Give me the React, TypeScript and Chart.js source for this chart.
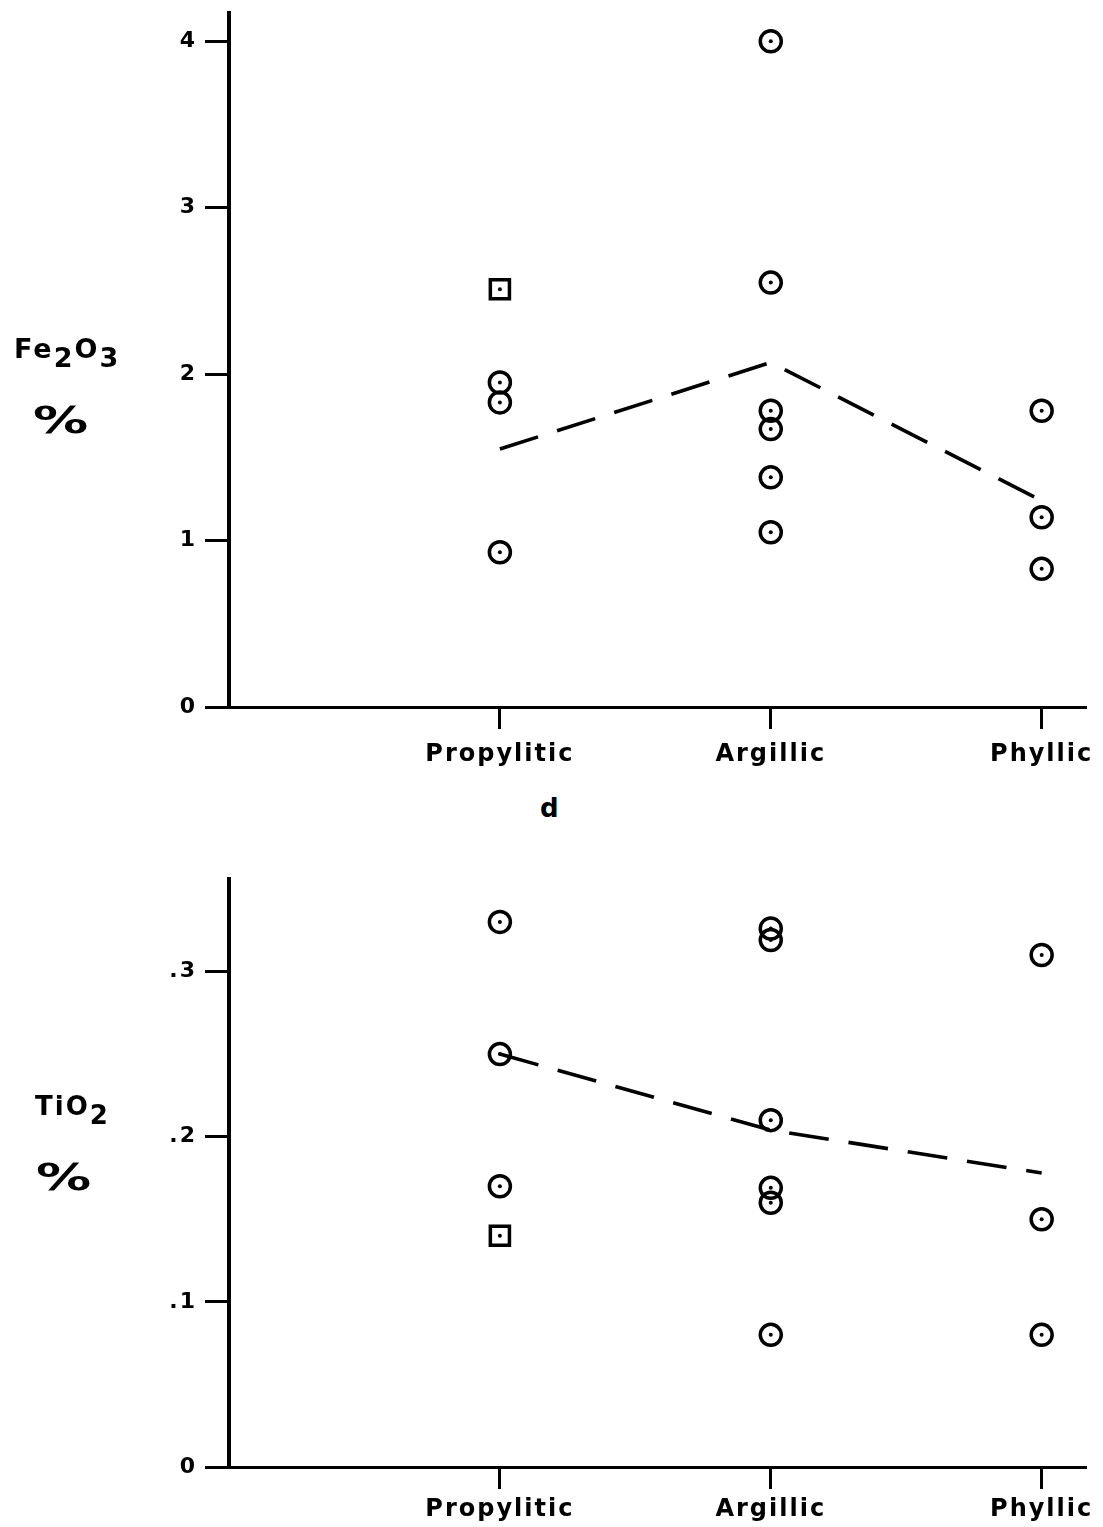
import React, { useEffect, useRef } from "react";
import { Chart, registerables } from "chart.js";

Chart.register(...registerables);

const categories = ["Propylitic", "Argillic", "Phyllic"];

// Fe2O3 %
const feProp = [1.95, 1.83, 0.93];
const fePropSquare = [2.51];
const feArg = [4.0, 2.55, 1.78, 1.67, 1.38, 1.05];
const fePhy = [1.78, 1.14, 0.83];
const feMean = [1.55, 2.07, 1.24];
const feTicks = [0, 1, 2, 3, 4];
const feTickLabels = ["0", "1", "2", "3", "4"];

// TiO2 %
const tiProp = [0.33, 0.25, 0.17];
const tiPropSquare = [0.14];
const tiArg = [0.326, 0.319, 0.21, 0.169, 0.16, 0.08];
const tiPhy = [0.31, 0.15, 0.08];
const tiMean = [0.25, 0.204, 0.178];
const tiTicks = [0, 0.1, 0.2, 0.3];
const tiTickLabels = ["0", ".1", ".2", ".3"];

const FONT = "'DejaVu Sans', sans-serif";

function pts(cat: number, vals: number[]) {
  return vals.map((v) => ({ x: cat + 1, y: v }));
}

const letterSpacingPlugin = {
  id: "ls",
  beforeDraw(chart: any) {
    try {
      (chart.ctx as any).letterSpacing = "2px";
    } catch (e) {}
  },
};

function buildConfig(
  groups: number[][],
  square: number[],
  mean: number[],
  yMax: number,
  yTicks: number[],
  yLabels: string[],
  xAxisHeight: number,
  xPad: number,
  padTop: number
): any {
  const circles: any[] = [];
  groups.forEach((g, i) => circles.push(...pts(i, g)));
  const sq = pts(0, square);
  const all = [...circles, ...sq];
  return {
    type: "scatter",
    data: {
      datasets: [
        {
          type: "line",
          data: mean.map((v, i) => ({ x: i + 1, y: v })),
          borderColor: "#000",
          borderWidth: 3.6,
          borderDash: [40, 20],
          pointRadius: 0,
          fill: false,
          tension: 0,
          clip: false,
        },
        {
          data: circles,
          pointStyle: "circle",
          pointRadius: 10.5,
          borderWidth: 3.5,
          borderColor: "#000",
          backgroundColor: "rgba(255,255,255,0)",
          clip: false,
        },
        {
          data: sq,
          pointStyle: "rect",
          pointRadius: 13.5,
          borderWidth: 3.5,
          borderColor: "#000",
          backgroundColor: "rgba(255,255,255,0)",
          clip: false,
        },
        {
          data: all,
          pointStyle: "circle",
          pointRadius: 2,
          borderWidth: 0,
          backgroundColor: "#000",
          clip: false,
        },
      ],
    },
    options: {
      animation: false,
      responsive: true,
      maintainAspectRatio: false,
      layout: { padding: { top: padTop, right: 18, left: 0, bottom: 0 } },
      plugins: { legend: { display: false }, tooltip: { enabled: false } },
      scales: {
        x: {
          type: "linear",
          min: 0,
          max: 3.16,
          afterBuildTicks: (s: any) => {
            s.ticks = [1, 2, 3].map((v) => ({ value: v }));
          },
          afterFit: (s: any) => {
            s.height = xAxisHeight;
            s.paddingLeft = 0;
            s.paddingRight = 0;
          },
          ticks: {
            callback: (v: any) => categories[Math.round(v) - 1] ?? "",
            color: "#000",
            font: { family: FONT, size: 24, weight: "bold" },
            padding: xPad,
            maxRotation: 0,
            autoSkip: false,
          },
          grid: {
            drawOnChartArea: false,
            drawTicks: true,
            tickLength: 22,
            color: "#000",
            lineWidth: 3,
          },
          border: { display: true, color: "#000", width: 3 },
        },
        y: {
          type: "linear",
          min: 0,
          max: yMax,
          afterBuildTicks: (s: any) => {
            s.ticks = yTicks.map((v) => ({ value: v }));
          },
          afterFit: (s: any) => {
            s.width = 229;
            s.paddingTop = 0;
            s.paddingBottom = 0;
          },
          ticks: {
            callback: (v: any) => {
              const i = yTicks.findIndex((t) => Math.abs(t - v) < 1e-9);
              return i >= 0 ? yLabels[i] : "";
            },
            color: "#000",
            font: { family: FONT, size: 22, weight: "bold" },
            padding: 8,
            autoSkip: false,
          },
          grid: {
            drawOnChartArea: false,
            drawTicks: true,
            tickLength: 24,
            color: "#000",
            lineWidth: 3,
          },
          border: { display: true, color: "#000", width: 4 },
        },
      },
    },
    plugins: [letterSpacingPlugin],
  };
}

function ChartBox(props: { config: any; top: number; height: number }) {
  const ref = useRef<HTMLCanvasElement | null>(null);
  useEffect(() => {
    if (!ref.current) return;
    const c = new Chart(ref.current, props.config);
    return () => c.destroy();
  }, []);
  return (
    <div
      style={{
        position: "absolute",
        left: 0,
        top: props.top,
        width: 1103,
        height: props.height,
      }}
    >
      <canvas ref={ref} />
    </div>
  );
}

const txt: React.CSSProperties = {
  position: "absolute",
  fontFamily: FONT,
  fontWeight: "bold",
  color: "#000",
  whiteSpace: "nowrap",
  letterSpacing: "2px",
  lineHeight: 1,
};

const pct: React.CSSProperties = {
  ...txt,
  fontSize: 38,
  letterSpacing: "0px",
  transform: "scaleX(1.45)",
  transformOrigin: "left top",
};

export default function App() {
  const topCfg = buildConfig(
    [feProp, feArg, fePhy],
    fePropSquare,
    feMean,
    4.17,
    feTicks,
    feTickLabels,
    83,
    11,
    8
  );
  const botCfg = buildConfig(
    [tiProp, tiArg, tiPhy],
    tiPropSquare,
    tiMean,
    0.356,
    tiTicks,
    tiTickLabels,
    60,
    6,
    39
  );
  return (
    <div
      style={{
        position: "absolute",
        left: 0,
        top: 0,
        width: 1103,
        height: 1527,
        background: "#fff",
        overflow: "hidden",
      }}
    >
      <ChartBox config={topCfg} top={-4} height={794} />
      <ChartBox config={botCfg} top={840} height={687} />
      <div style={{ ...txt, left: 14, top: 335, fontSize: 27 }}>
        Fe<sub style={{ fontSize: 27, verticalAlign: "-9px" }}>2</sub>O
        <sub style={{ fontSize: 27, verticalAlign: "-9px" }}>3</sub>
      </div>
      <div style={{ ...pct, left: 33, top: 401 }}>%</div>
      <div style={{ ...txt, left: 540, top: 795, fontSize: 26 }}>d</div>
      <div style={{ ...txt, left: 35, top: 1093, fontSize: 26 }}>
        TiO<sub style={{ fontSize: 26, verticalAlign: "-9px" }}>2</sub>
      </div>
      <div style={{ ...pct, left: 36, top: 1158 }}>%</div>
    </div>
  );
}
